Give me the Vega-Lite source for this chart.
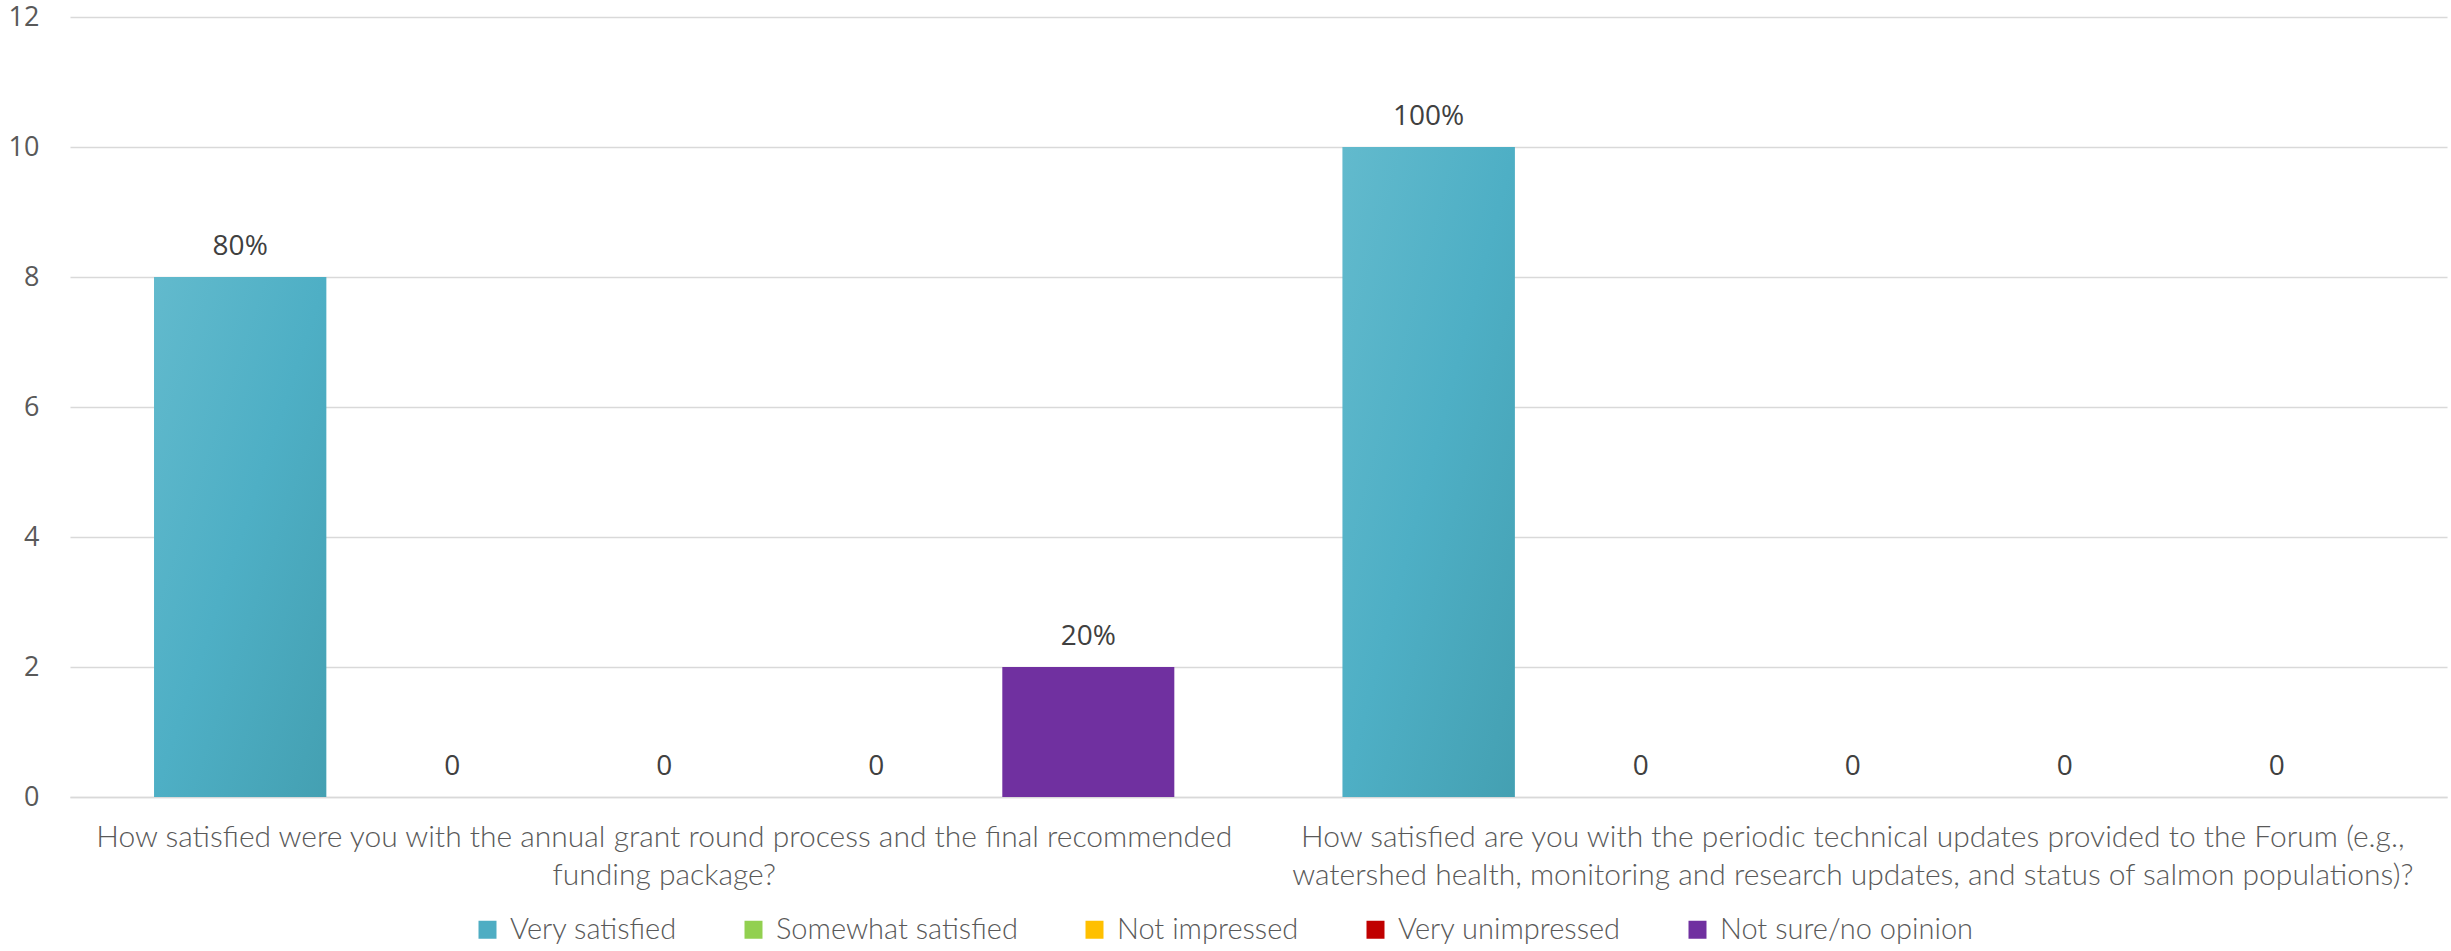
{
  "$schema": "https://vega.github.io/schema/vega-lite/v6.json",
  "width": 2377,
  "height": 780,
  "autosize": {"type": "none"},
  "padding": {"left": 70, "top": 17, "right": 4, "bottom": 154},
  "background": "white",
  "config": {
    "view": {"stroke": null},
    "font": "Open Sans"
  },
  "data": {
    "values": [
      {"question": "How satisfied were you with the annual grant round process and the final recommended funding package?", "response": "Very satisfied", "count": 8, "label": "80%"},
      {"question": "How satisfied were you with the annual grant round process and the final recommended funding package?", "response": "Somewhat satisfied", "count": 0, "label": "0"},
      {"question": "How satisfied were you with the annual grant round process and the final recommended funding package?", "response": "Not impressed", "count": 0, "label": "0"},
      {"question": "How satisfied were you with the annual grant round process and the final recommended funding package?", "response": "Very unimpressed", "count": 0, "label": "0"},
      {"question": "How satisfied were you with the annual grant round process and the final recommended funding package?", "response": "Not sure/no opinion", "count": 2, "label": "20%"},
      {"question": "How satisfied are you with the periodic technical updates provided to the Forum (e.g., watershed health, monitoring and research updates, and status of salmon populations)?", "response": "Very satisfied", "count": 10, "label": "100%"},
      {"question": "How satisfied are you with the periodic technical updates provided to the Forum (e.g., watershed health, monitoring and research updates, and status of salmon populations)?", "response": "Somewhat satisfied", "count": 0, "label": "0"},
      {"question": "How satisfied are you with the periodic technical updates provided to the Forum (e.g., watershed health, monitoring and research updates, and status of salmon populations)?", "response": "Not impressed", "count": 0, "label": "0"},
      {"question": "How satisfied are you with the periodic technical updates provided to the Forum (e.g., watershed health, monitoring and research updates, and status of salmon populations)?", "response": "Very unimpressed", "count": 0, "label": "0"},
      {"question": "How satisfied are you with the periodic technical updates provided to the Forum (e.g., watershed health, monitoring and research updates, and status of salmon populations)?", "response": "Not sure/no opinion", "count": 0, "label": "0"}
    ]
  },
  "encoding": {
    "x": {
      "field": "question",
      "type": "nominal",
      "sort": null,
      "title": null,
      "scale": {"paddingInner": 0, "paddingOuter": 0},
      "axis": {
        "labelAngle": 0,
        "ticks": false,
        "domain": true,
        "domainColor": "#d9d9d9",
        "domainWidth": 1.5,
        "labelFont": "Lato",
        "labelFontWeight": 300,
        "labelFontSize": 30,
        "labelColor": "#595959",
        "labelLimit": 0,
        "labelBaseline": "top",
        "labelLineHeight": 38,
        "labelPadding": 25,
        "labelExpr": "length(datum.value) < 140 ? ['How satisfied were you with the annual grant round process and the final recommended', 'funding package?'] : ['How satisfied are you with the periodic technical updates provided to the Forum (e.g.,', 'watershed health, monitoring and research updates, and status of salmon populations)?']"
      }
    },
    "xOffset": {
      "field": "response",
      "type": "nominal",
      "scale": {
        "domain": ["Very satisfied", "Somewhat satisfied", "Not impressed", "Very unimpressed", "Not sure/no opinion"],
        "paddingInner": 0.1887,
        "paddingOuter": 0.397
      }
    },
    "y": {
      "field": "count",
      "type": "quantitative",
      "title": null,
      "scale": {"domain": [0, 12], "nice": false},
      "axis": {
        "values": [0, 2, 4, 6, 8, 10, 12],
        "ticks": false,
        "domain": false,
        "grid": true,
        "gridColor": "#d9d9d9",
        "gridWidth": 1.5,
        "labelFont": "Open Sans",
        "labelFontSize": 27,
        "labelColor": "#595959",
        "labelPadding": 31
      }
    }
  },
  "layer": [
    {
      "mark": {"type": "bar"},
      "encoding": {
        "color": {
          "field": "response",
          "type": "nominal",
          "title": null,
          "scale": {
            "domain": ["Very satisfied", "Somewhat satisfied", "Not impressed", "Very unimpressed", "Not sure/no opinion"],
            "range": ["#4eadc3", "#92d050", "#ffc000", "#c00000", "#7030a0"]
          },
          "legend": {
            "orient": "none",
            "legendX": 403,
            "legendY": 898,
            "direction": "horizontal",
            "columns": 5,
            "symbolType": "square",
            "symbolSize": 324,
            "symbolStrokeWidth": 0,
            "labelFont": "Lato",
            "labelFontWeight": 300,
            "labelFontSize": 29,
            "labelColor": "#595959",
            "labelOffset": 8,
            "columnPadding": 62,
            "labelLimit": 0
          }
        }
      }
    },
    {
      "transform": [{"filter": "datum.response === 'Very satisfied'"}],
      "mark": {
        "type": "bar",
        "color": {
          "gradient": "linear",
          "x1": 0, "y1": 0, "x2": 1, "y2": 1,
          "stops": [
            {"offset": 0, "color": "#62bacd"},
            {"offset": 0.5, "color": "#4eafc5"},
            {"offset": 1, "color": "#44a0b2"}
          ]
        }
      }
    },
    {
      "mark": {
        "type": "text",
        "baseline": "middle",
        "dy": -30,
        "font": "Open Sans",
        "fontSize": 28,
        "color": "#404040"
      },
      "encoding": {"text": {"field": "label"}}
    }
  ]
}
